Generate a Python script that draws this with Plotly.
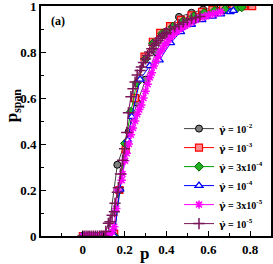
import plotly.graph_objects as go

# ---- data ----
p_1e2 = [0.0, 0.03, 0.06, 0.09, 0.12, 0.165, 0.22, 0.26, 0.30, 0.35, 0.40, 0.46, 0.52, 0.575, 0.63, 0.68, 0.73, 0.77, 0.80]
v_1e2 = [0.0, 0.0, 0.0, 0.0, 0.0, 0.31, 0.455, 0.58, 0.68, 0.80, 0.89, 0.953, 0.971, 0.985, 0.992, 0.997, 1.0, 1.0, 1.0]

p_1e3 = [0.0, 0.03, 0.06, 0.09, 0.12, 0.15, 0.175, 0.205, 0.25, 0.295, 0.335, 0.37, 0.417, 0.47, 0.52, 0.57, 0.62, 0.67, 0.72, 0.77, 0.81]
v_1e3 = [0.0, 0.0, 0.0, 0.0, 0.0, 0.01, 0.2, 0.377, 0.6, 0.78, 0.845, 0.884, 0.913, 0.94, 0.96, 0.975, 0.985, 0.99, 0.995, 1.0, 1.0]

p_3e4 = [0.0, 0.03, 0.06, 0.09, 0.12, 0.15, 0.175, 0.202, 0.23, 0.258, 0.30, 0.336, 0.38, 0.43, 0.48, 0.53, 0.58, 0.63, 0.68, 0.736, 0.76]
v_3e4 = [0.0, 0.0, 0.0, 0.0, 0.0, 0.0, 0.2, 0.403, 0.54, 0.667, 0.77, 0.838, 0.88, 0.91, 0.935, 0.955, 0.97, 0.98, 0.985, 0.99, 0.995]

p_1e4 = [0.0, 0.03, 0.06, 0.09, 0.12, 0.15, 0.178, 0.215, 0.234, 0.274, 0.32, 0.366, 0.42, 0.468, 0.52, 0.57, 0.62, 0.66, 0.705, 0.72]
v_1e4 = [0.0, 0.0, 0.0, 0.0, 0.0, 0.0, 0.203, 0.417, 0.519, 0.681, 0.74, 0.765, 0.84, 0.888, 0.92, 0.94, 0.955, 0.965, 0.975, 0.98]

p_3e5 = [0.0, 0.01, 0.02, 0.03, 0.04, 0.05, 0.06, 0.07, 0.08, 0.09, 0.10, 0.11, 0.12, 0.13, 0.14, 0.15,
         0.16, 0.167, 0.186, 0.19, 0.202, 0.21, 0.22, 0.23, 0.24, 0.25, 0.26, 0.27, 0.28, 0.29, 0.30,
         0.31, 0.32, 0.33, 0.34, 0.35, 0.36, 0.37, 0.38, 0.39, 0.40, 0.41, 0.42, 0.43, 0.44, 0.45,
         0.46, 0.47, 0.48, 0.49, 0.50, 0.52, 0.54, 0.56, 0.58, 0.60, 0.62, 0.64, 0.66]
v_3e5 = [0.0, 0.0, 0.0, 0.0, 0.0, 0.0, 0.0, 0.0, 0.0, 0.0, 0.0, 0.0, 0.0, 0.01, 0.02, 0.04,
         0.12, 0.2, 0.243, 0.27, 0.327, 0.36, 0.40, 0.44, 0.47, 0.50, 0.53, 0.55, 0.57, 0.60, 0.63,
         0.66, 0.69, 0.71, 0.74, 0.76, 0.78, 0.80, 0.815, 0.83, 0.84, 0.855, 0.865, 0.875, 0.885, 0.89,
         0.90, 0.905, 0.91, 0.915, 0.92, 0.93, 0.94, 0.95, 0.955, 0.96, 0.965, 0.97, 0.975]

p_1e5 = [0.0, 0.01, 0.02, 0.03, 0.04, 0.05, 0.06, 0.07, 0.08, 0.09, 0.10, 0.11, 0.122, 0.13, 0.14, 0.151,
         0.154, 0.165, 0.17, 0.18, 0.19, 0.20, 0.21, 0.218, 0.23, 0.24, 0.25, 0.26, 0.274, 0.28, 0.29,
         0.30, 0.31, 0.32, 0.33, 0.34, 0.35, 0.36, 0.37, 0.38, 0.39, 0.40, 0.42, 0.44, 0.46, 0.48,
         0.50, 0.52, 0.54, 0.56]
v_1e5 = [0.0, 0.0, 0.0, 0.0, 0.0, 0.0, 0.0, 0.0, 0.0, 0.0, 0.0, 0.02, 0.055, 0.062, 0.09, 0.106,
         0.142, 0.19, 0.21, 0.27, 0.33, 0.38, 0.45, 0.536, 0.606, 0.64, 0.67, 0.70, 0.72, 0.735, 0.755,
         0.77, 0.785, 0.80, 0.815, 0.83, 0.84, 0.85, 0.86, 0.87, 0.88, 0.885, 0.90, 0.91, 0.92, 0.93,
         0.94, 0.945, 0.95, 0.955]

gdot = "<span style='font-family:DejaVu Serif'>γ̇</span>"
labels = [gdot + " = 10<sup>-2</sup>", gdot + " = 10<sup>-3</sup>", gdot + " = 3x10<sup>-4</sup>",
          gdot + " = 10<sup>-4</sup>", gdot + " = 3x10<sup>-5</sup>", gdot + " = 10<sup>-5</sup>"]

x_ticks = [0, 0.2, 0.4, 0.6, 0.8]
x_ticktext = ["0", "0.2", "0.4", "0.6", "0.8"]
y_ticks = [0, 0.2, 0.4, 0.6, 0.8, 1.0]
y_ticktext = ["0", "0.2", "0.4", "0.6", "0.8", "1"]

series = [
    (p_1e2, v_1e2, dict(symbol="circle", size=7, color="#808080", line=dict(color="black", width=1)), "#444444"),
    (p_1e3, v_1e3, dict(symbol="square", size=7, color="#ff8c8c", line=dict(color="#ff0000", width=1.2)), "#ff0000"),
    (p_3e4, v_3e4, dict(symbol="diamond", size=7, color="#22b022", line=dict(color="#006400", width=1)), "#00a000"),
    (p_1e4, v_1e4, dict(symbol="triangle-up", size=7, color="white", line=dict(color="#0000ff", width=1.3)), "#0000ff"),
    (p_3e5, v_3e5, dict(symbol="asterisk-open", size=7, color="#ff00ff", line=dict(color="#ff00ff", width=1.5)), "#ff00ff"),
    (p_1e5, v_1e5, dict(symbol="cross-thin-open", size=8, color="#7a1458", line=dict(color="#7a1458", width=1.5)), "#7a1458"),
]

fig = go.Figure()
for (px, pv, mk, lc), name in zip(series, labels):
    fig.add_trace(go.Scatter(x=px, y=pv, mode="lines+markers", name=name,
                             marker=mk, line=dict(color=lc, width=1)))

font_fam = "Liberation Serif, Times New Roman, serif"
axis_common = dict(showline=True, linecolor="black", linewidth=2, mirror=True,
                   ticks="inside", ticklen=5, tickwidth=1, tickcolor="black",
                   showgrid=False, zeroline=False, automargin=False,
                   ticklabeloverflow="allow",
                   tickfont=dict(family=font_fam, size=13, color="black", weight="bold"))

fig.update_layout(
    width=273, height=264,
    margin=dict(l=41, r=2, t=6, b=28, autoexpand=False),
    paper_bgcolor="white", plot_bgcolor="white",
    showlegend=True,
    legend=dict(x=0.6, y=0.53, xanchor="left", yanchor="top",
                bgcolor="rgba(0,0,0,0)", borderwidth=0,
                font=dict(family=font_fam, size=10, color="black", weight="bold"),
                itemwidth=30, tracegroupgap=0),
    xaxis=dict(range=[-0.2, 0.9], tickvals=x_ticks, ticktext=x_ticktext,
               minor=dict(ticks="inside", ticklen=3, tick0=0, dtick=0.1, tickcolor="black"),
               **axis_common),
    yaxis=dict(range=[0, 1.0005], tickvals=y_ticks, ticktext=y_ticktext,
               minor=dict(ticks="inside", ticklen=3, tick0=0, dtick=0.1, tickcolor="black"),
               **axis_common),
    annotations=[
        dict(text="<b>(a)</b>", x=0.035, y=0.975, xref="paper", yref="paper",
             xanchor="left", yanchor="top", showarrow=False,
             font=dict(family=font_fam, size=12, color="black")),
        dict(text="<b>p</b>", x=0.452, y=-0.075, xref="paper", yref="paper",
             xanchor="center", yanchor="middle", showarrow=False,
             font=dict(family=font_fam, size=17, color="black")),
        dict(text="<b>p<sub>span</sub></b>", x=-0.12, y=0.57, xref="paper", yref="paper",
             xanchor="center", yanchor="middle", showarrow=False, textangle=-90,
             font=dict(family=font_fam, size=17, color="black")),
    ],
)

fig.write_html("out.html", config={"displayModeBar": False},
               post_script="document.body.style.margin='0';document.body.style.overflow='hidden';")
